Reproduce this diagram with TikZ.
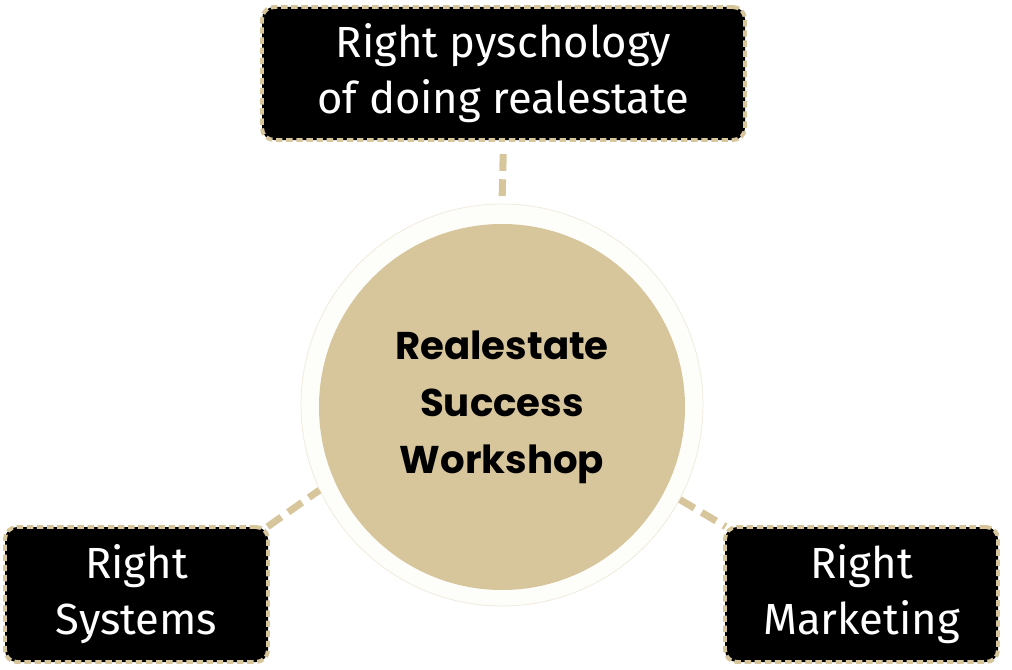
\documentclass[tikz,border=0pt]{standalone}
\usepackage{fontspec}
\setmainfont{Fira Sans}
\newfontfamily\hubfont{Poppins}[BoldFont={* Bold}]
\usetikzlibrary{positioning}
\newcommand{\pxu}{0.025cm}
\definecolor{sand}{HTML}{D7C59C}
\definecolor{halofill}{HTML}{FDFDF9}
\definecolor{haloline}{HTML}{F1ECDF}
\tikzset{
  halo/.style={draw=haloline,fill=halofill,circle,line width=0.6pt,minimum size=402*\pxu,inner sep=0pt},
  hub/.style={circle,fill=sand,minimum size=366*\pxu,inner sep=0pt,align=center,
    font=\hubfont\bfseries\fontsize{27.5}{40.5}\selectfont},
  topic/.style={draw=sand,fill=black,rounded corners=12*\pxu,line width=2.8pt,
    dash pattern=on 4.6pt off 2.6pt,text=white,align=center,inner sep=0pt,
    font=\fontsize{31}{39.8}\selectfont},
  link/.style={draw=sand,line width=5pt,dash pattern=on 12pt off 6pt}
}
\begin{document}
\begin{tikzpicture}[x=\pxu,y=-\pxu]
  \useasboundingbox (0,0) rectangle (1012,670);
  \node[halo] (halo) at (502,405) {};
  \node[hub] (hub) at (502,407) {Realestate\\Success\\Workshop};
  \node[topic,minimum width=483*\pxu,minimum height=133*\pxu] (psy) at (503.5,73.5) {Right pyschology\\of doing realestate};
  \node[topic,minimum width=263*\pxu,minimum height=135*\pxu] (sys) at (136.5,594.5) {Right\\Systems};
  \node[topic,minimum width=273*\pxu,minimum height=135*\pxu] (mkt) at (861.5,594.5) {Right\\Marketing};
  % connectors
  \draw[link,shorten <=12*\pxu] (psy.south) -- (halo.north);
  \draw[link,shorten <=-3*\pxu] (sys.north east) -- (halo.205);
  \draw[link,shorten >=-3*\pxu] (halo.332) -- (mkt.north west);
\end{tikzpicture}
\end{document}
